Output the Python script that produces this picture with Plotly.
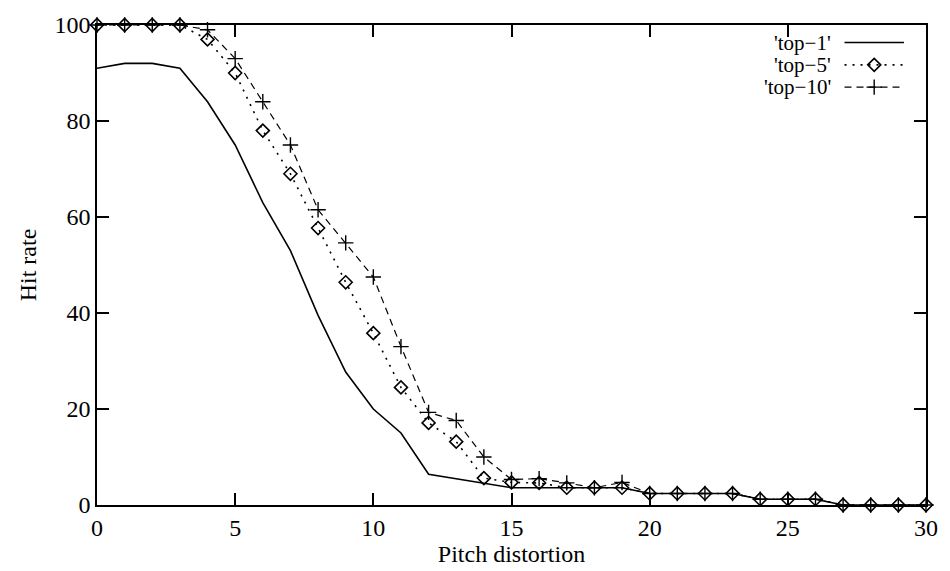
import plotly.graph_objects as go

x = list(range(0, 31))
top1 = [91, 92, 92, 91, 84, 75, 63, 53, 39.5, 27.7, 20, 15, 6.4, 5.5, 4.6,
        3.6, 3.6, 3.6, 3.6, 3.6, 2.4, 2.4, 2.4, 2.4, 1.2, 1.2, 1.2, 0, 0, 0, 0]
top5 = [100, 100, 100, 100, 97, 90, 78, 69, 57.7, 46.4, 35.8, 24.5, 17.1, 13.2, 5.6,
        4.7, 4.6, 3.6, 3.6, 3.6, 2.4, 2.4, 2.4, 2.4, 1.2, 1.2, 1.2, 0, 0, 0, 0]
top10 = [100, 100, 100, 100, 99, 93, 84, 75, 61.5, 54.6, 47.5, 33, 19.3, 17.6, 10,
         5.3, 5.5, 4.6, 3.6, 4.7, 2.4, 2.4, 2.4, 2.4, 1.2, 1.2, 1.2, 0, 0, 0, 0]
names = ["'top\u22121'", "'top\u22125'", "'top\u221210'"]
x_ticks = [0, 5, 10, 15, 20, 25, 30]
y_ticks = [0, 20, 40, 60, 80, 100]

FONT = "Liberation Serif"
FS = 24
LFS = 21
DOT = "2px,6px"
DASH = "7px,5px"

DIAMOND = dict(symbol="diamond-open", size=10, color="black", line=dict(width=1.6))
CROSS = dict(symbol="cross-thin-open", size=11, color="black", line=dict(width=1.4, color="black"))

fig = go.Figure()
fig.add_trace(go.Scatter(x=x, y=top1, mode="lines", name=names[0],
                         line=dict(color="black", width=1.6), showlegend=False,
                         cliponaxis=False))
fig.add_trace(go.Scatter(x=x, y=top5, mode="lines+markers", name=names[1],
                         line=dict(color="black", width=1.6, dash=DOT),
                         marker=DIAMOND, showlegend=False, cliponaxis=False))
fig.add_trace(go.Scatter(x=x, y=top10, mode="lines+markers", name=names[2],
                         line=dict(color="black", width=1.2, dash=DASH),
                         marker=CROSS, showlegend=False, cliponaxis=False))

# custom gnuplot-style legend (text left, sample right) on an overlay axis
leg_y = [0.9635, 0.917, 0.8705]
styles = [dict(dash="solid", width=1.6), dict(dash=DOT, width=1.6), dict(dash=DASH, width=1.2)]
markers = [None, DIAMOND, CROSS]
for i, nm in enumerate(names):
    fig.add_trace(go.Scatter(x=[0.9017, 0.9734], y=[leg_y[i]] * 2, mode="lines",
                             line=dict(color="black", **styles[i]), xaxis="x2", yaxis="y2",
                             showlegend=False, hoverinfo="skip"))
    if markers[i]:
        fig.add_trace(go.Scatter(x=[0.9375], y=[leg_y[i]], mode="markers",
                                 marker=markers[i], xaxis="x2", yaxis="y2",
                                 showlegend=False, hoverinfo="skip"))
    fig.add_annotation(x=0.8877, y=leg_y[i], xref="paper", yref="paper", text=nm,
                       showarrow=False, xanchor="right", yanchor="middle",
                       font=dict(family=FONT, size=LFS, color="black"))

axis_common = dict(showline=True, linecolor="black", linewidth=1.6, mirror="ticks",
                   ticks="inside", ticklen=12, tickwidth=1.6, tickcolor="black",
                   showgrid=False, zeroline=False,
                   tickfont=dict(family=FONT, size=FS, color="black"))
fig.update_layout(
    width=950, height=571,
    margin=dict(l=97, r=16, t=12, b=66),
    paper_bgcolor="white", plot_bgcolor="white",
    xaxis=dict(range=[0, 30], tickvals=x_ticks, ticktext=[str(v) for v in x_ticks],
               title=dict(text="Pitch distortion", font=dict(family=FONT, size=FS, color="black"),
                          standoff=2),
               **axis_common),
    yaxis=dict(range=[0, 100], tickvals=y_ticks, ticktext=[str(v) for v in y_ticks],
               title=dict(text="Hit rate", font=dict(family=FONT, size=FS, color="black"),
                          standoff=11),
               **axis_common),
    xaxis2=dict(range=[0, 1], overlaying="x", visible=False, fixedrange=True),
    yaxis2=dict(range=[0, 1], overlaying="y", visible=False, fixedrange=True),
)

fig.write_html("out.html")
